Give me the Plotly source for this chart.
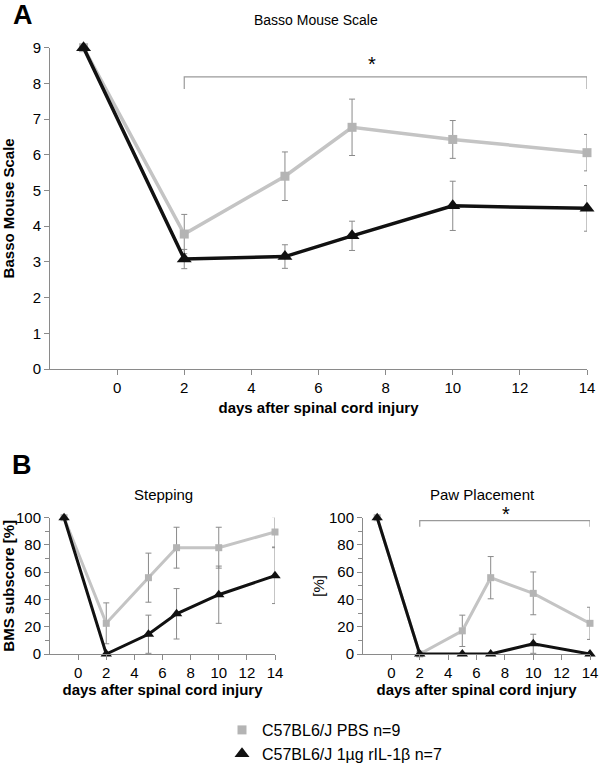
import plotly.graph_objects as go

# ---------------- data ----------------
days = [-1, 2, 5, 7, 10, 14]
x_ticks = [0, 2, 4, 6, 8, 10, 12, 14]

bms_pbs = [9, 3.78, 5.4, 6.77, 6.43, 6.06]
bms_pbs_err = [0, 0.55, 0.68, 0.79, 0.53, 0.51]
bms_il = [9, 3.08, 3.15, 3.73, 4.57, 4.5]
bms_il_err = [0, 0.27, 0.33, 0.41, 0.69, 0.64]

step_pbs = [100, 22.5, 56, 78, 78, 89.5]
step_pbs_err = [0, 15, 18, 15, 15, 11]
step_il = [100, 0, 14.5, 29.5, 43.5, 57.5]
step_il_err = [0, 0, 14, 18.5, 21, 20.5]

paw_pbs = [100, 0, 17, 56, 44.5, 22.5]
paw_pbs_err = [0, 0, 11.5, 15.5, 15.7, 11.8]
paw_il = [100, 0, 0, 0, 7.5, 0]
paw_il_err = [0, 0, 0, 0, 7, 0]

series_names = ["C57BL6/J PBS n=9", "C57BL6/J 1µg rIL-1β n=7"]

# ---------------- style ----------------
FONT = "Liberation Sans, Arial, sans-serif"
GRAY_LINE = "#c4c4c4"
GRAY_MARK = "#b4b4b4"
BLACK = "#111111"
AXIS = "#8a8a8a"
ERR = "#8a8a8a"

fig = go.Figure()


def add_pair(pbs, pbs_err, il, il_err, xa, ya, msq, mtri, lw):
    fig.add_trace(go.Scatter(
        x=days, y=pbs, xaxis=xa, yaxis=ya, mode="lines+markers",
        line=dict(color=GRAY_LINE, width=lw),
        marker=dict(symbol="square", size=msq, color=GRAY_MARK),
        error_y=dict(type="data", array=pbs_err, color=ERR, thickness=1, width=3),
        showlegend=False, cliponaxis=False))
    fig.add_trace(go.Scatter(
        x=days, y=il, xaxis=xa, yaxis=ya, mode="lines+markers",
        line=dict(color=BLACK, width=lw),
        marker=dict(symbol="triangle-up", size=mtri, color=BLACK),
        error_y=dict(type="data", array=il_err, color=ERR, thickness=1, width=3),
        showlegend=False, cliponaxis=False))


add_pair(bms_pbs, bms_pbs_err, bms_il, bms_il_err, "x", "y", 9, 13, 3.5)
add_pair(step_pbs, step_pbs_err, step_il, step_il_err, "x2", "y2", 7, 10, 3)
add_pair(paw_pbs, paw_pbs_err, paw_il, paw_il_err, "x3", "y3", 7, 10, 3)

# legend-only traces
fig.add_trace(go.Scatter(x=[None], y=[None], mode="markers", name=series_names[0],
                         marker=dict(symbol="square", size=9, color=GRAY_MARK)))
fig.add_trace(go.Scatter(x=[None], y=[None], mode="markers", name=series_names[1],
                         marker=dict(symbol="triangle-up", size=13, color=BLACK)))

W, H = 600, 764


def px_x(a, b):
    return [a / W, b / W]


def px_y(top, bottom):
    return [1 - bottom / H, 1 - top / H]


axis_common = dict(showline=True, linecolor=AXIS, linewidth=1, ticks="outside",
                   ticklen=5, tickcolor=AXIS, showgrid=False, zeroline=False,
                   automargin=False,
                   tickfont=dict(family=FONT, size=15, color="black"))


def xtitle(standoff):
    return dict(text="<b>days after spinal cord injury</b>",
                font=dict(family=FONT, size=15, color="black"), standoff=standoff)


fig.update_layout(
    width=W, height=H, margin=dict(l=0, r=0, t=0, b=0, autoexpand=False),
    plot_bgcolor="white", paper_bgcolor="white",
    font=dict(family=FONT, color="black"),
    xaxis=dict(axis_common, domain=px_x(50, 587), range=[-2, 14],
               tickvals=x_ticks, anchor="y", title=xtitle(7)),
    yaxis=dict(axis_common, domain=px_y(47.7, 369), range=[0, 9], dtick=1,
               anchor="x",
               title=dict(text="<b>Basso Mouse Scale</b>",
                          font=dict(family=FONT, size=15, color="black"), standoff=16)),
    xaxis2=dict(axis_common, domain=px_x(50, 275), range=[-2, 14],
                tickvals=x_ticks, anchor="y2", title=xtitle(0)),
    yaxis2=dict(axis_common, domain=px_y(517.7, 654), range=[0, 100], dtick=20,
                anchor="x2", minor=dict(dtick=10, ticklen=4, tickcolor=AXIS, ticks="outside"),
                title=dict(text="<b>BMS subscore [%]</b>",
                           font=dict(family=FONT, size=15, color="black"), standoff=0)),
    xaxis3=dict(axis_common, domain=px_x(363, 590), range=[-2, 14],
                tickvals=x_ticks, anchor="y3", title=xtitle(0)),
    yaxis3=dict(axis_common, domain=px_y(517.7, 654), range=[0, 100], dtick=20,
                anchor="x3", minor=dict(dtick=10, ticklen=4, tickcolor=AXIS, ticks="outside"),
                title=dict(text="[%]", font=dict(family=FONT, size=15, color="black"),
                           standoff=0)),
    legend=dict(x=222 / W, y=1 - 713 / H, xanchor="left", yanchor="top",
                font=dict(family=FONT, size=16, color="black"),
                bgcolor="rgba(0,0,0,0)", itemwidth=30, tracegroupgap=0),
    showlegend=True,
)

# significance brackets
bracket = dict(type="path", line=dict(color="#9a9a9a", width=1.2))
fig.add_shape(bracket, xref="x", yref="y", path="M 2,7.84 L 2,8.18 L 14,8.18 L 14,7.84")
fig.add_shape(bracket, xref="x3", yref="y3", path="M 2,93.4 L 2,97.8 L 14,97.8 L 14,93.4")
fig.add_annotation(x=7.6, y=8.55, xref="x", yref="y", text="*", showarrow=False,
                   xanchor="center", yanchor="middle",
                   font=dict(family=FONT, size=20, color="black"))
fig.add_annotation(x=8.1, y=1 - 514 / H, xref="x3", yref="paper", text="*",
                   showarrow=False, xanchor="center", yanchor="middle",
                   font=dict(family=FONT, size=20, color="black"))


def paper_text(x, y, text, size):
    fig.add_annotation(x=x / W, y=1 - y / H, xref="paper", yref="paper", text=text,
                       showarrow=False, xanchor="center", yanchor="middle",
                       font=dict(family=FONT, size=size, color="black"))


# panel titles
paper_text(316, 20, "Basso Mouse Scale", 14)
paper_text(163, 494, "Stepping", 15)
paper_text(482, 494, "Paw Placement", 15)

# panel letters
paper_text(23, 15, "<b>A</b>", 27)
paper_text(22, 465, "<b>B</b>", 27)

fig.write_html("out.html",
               config={"displayModeBar": False},
               post_script="document.body.style.margin='0';"
                           "document.body.style.overflow='hidden';")
